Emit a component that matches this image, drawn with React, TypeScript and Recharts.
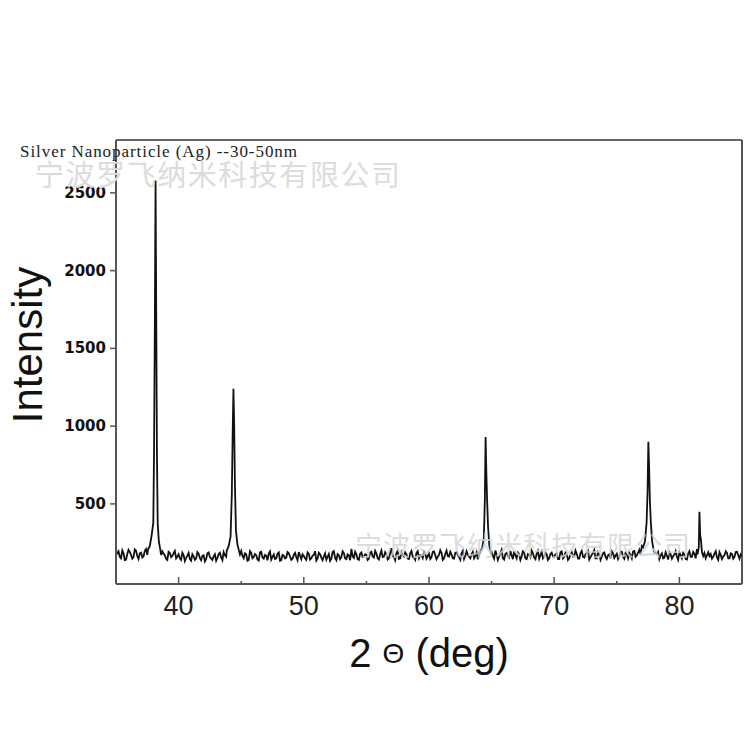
import React from 'react';
import { LineChart, Line, XAxis, YAxis, ReferenceLine } from 'recharts';

// background (noise) intensities, sampled every 0.2 deg from 35.0 to 85.0
const noiseStart = 35;
const noiseStep = 0.2;
const noiseIntensity = [
  168, 196, 150, 182, 141, 205, 172, 158, 199, 146, 187, 163, 210, 152, 190, 176, 215, 160, 172, 180, 148, 192, 158, 183, 150,
  176, 140, 171, 152, 185, 135, 163, 148, 180, 138, 170, 145, 188, 150, 162, 134, 178, 155, 190, 160, 200, 170, 168, 185, 140,
  198, 150, 176, 140, 185, 158, 170, 136, 192, 148, 166, 180, 142, 175, 150, 188, 138, 168, 155, 182, 140, 172, 158, 190, 145,
  165, 140, 180, 150, 172, 136, 186, 155, 162, 142, 178, 148, 196, 138, 170, 158, 184, 145, 168, 210, 152, 176, 140, 188, 160,
  172, 148, 192, 155, 180, 142, 200, 160, 175, 150, 215, 158, 182, 146, 190, 162, 176, 145, 198, 155, 185, 150, 170, 192, 148,
  180, 158, 195, 145, 172, 186, 150, 200, 162, 176, 148, 190, 158, 182, 145, 196, 160, 178, 150, 188, 170, 210, 175, 185, 152,
  190, 148, 176, 160, 205, 142, 185, 155, 170, 195, 150, 178, 162, 188, 145, 172, 200, 155, 180, 148, 192, 160, 175, 150, 186,
  158, 182, 145, 195, 160, 176, 150, 190, 165, 180, 148, 198, 155, 185, 142, 172, 205, 150, 178, 160, 188, 146, 176, 195, 152,
  180, 160, 192, 148, 176, 185, 150, 198, 170, 205, 230, 170, 170, 170, 170, 170, 178, 145, 182, 155, 170, 190, 148, 175, 160,
  188, 150, 176, 142, 195, 160, 180, 210, 155, 172, 185, 170, 165, 148, 180, 155, 190, 145, 170, 185, 150, 178, 160, 192, 148,
  165,
];

// background intensities in between, every 0.2 deg from 35.1 to 84.9
const noiseOddStart = 35.1;
const noiseOddIntensity = [
  185, 160, 201, 139, 176, 192, 148, 207, 165, 182, 155, 198, 172, 143, 205, 160, 188, 150, 195, 170, 140, 185, 165, 198, 162,
  150, 186, 132, 168, 145, 176, 140, 190, 152, 166, 130, 182, 158, 140, 176, 152, 186, 138, 170, 148, 182, 152, 195, 165, 175,
  165, 182, 135, 196, 150, 178, 142, 188, 155, 172, 138, 194, 160, 146, 180, 135, 172, 150, 190, 162, 148, 185, 138, 168, 176,
  150, 188, 142, 168, 196, 150, 176, 138, 182, 160, 134, 190, 152, 178, 145, 196, 150, 175, 138, 162, 192, 145, 180, 158, 176,
  140, 186, 162, 198, 150, 176, 158, 190, 142, 184, 165, 138, 200, 150, 172, 188, 148, 182, 160, 140, 196, 170, 152, 180, 165,
  146, 192, 170, 160, 202, 140, 178, 165, 192, 150, 186, 172, 140, 198, 165, 174, 150, 192, 165, 145, 195, 155, 190, 165, 175,
  165, 200, 140, 184, 152, 178, 165, 198, 145, 172, 188, 140, 196, 150, 178, 158, 182, 145, 198, 170, 150, 186, 140, 178, 162,
  176, 145, 190, 150, 186, 140, 178, 162, 200, 148, 184, 160, 176, 198, 158, 186, 150, 190, 140, 182, 160, 170, 150, 182, 168,
  145, 194, 160, 185, 150, 172, 195, 160, 186, 175, 215, 170, 170, 170, 170, 170, 192, 168, 150, 190, 142, 176, 165, 196, 140,
  170, 186, 145, 180, 160, 192, 150, 185, 170, 165, 150, 190, 178, 160, 196, 140, 172, 162, 196, 150, 182, 148, 190, 170, 176,
];

// diffraction peaks
const peak111Angle = [37.55, 37.7, 37.85, 37.98, 38.04, 38.1, 38.16, 38.22, 38.27, 38.33, 38.42, 38.55];
const peak111Intensity = [205, 230, 300, 380, 860, 1630, 2580, 1620, 820, 380, 260, 200];

const peak200Angle = [43.85, 44.0, 44.15, 44.25, 44.32, 44.38, 44.44, 44.5, 44.58, 44.7, 44.85];
const peak200Intensity = [200, 230, 290, 560, 960, 1240, 1000, 620, 330, 240, 190];

const peak220Angle = [64.05, 64.25, 64.38, 64.46, 64.52, 64.58, 64.64, 64.72, 64.82, 64.95];
const peak220Intensity = [190, 215, 280, 525, 930, 700, 525, 350, 230, 185];

const peak311Angle = [77.1, 77.25, 77.38, 77.46, 77.52, 77.58, 77.64, 77.72, 77.82, 77.95, 78.1];
const peak311Intensity = [220, 260, 380, 590, 899, 740, 525, 380, 260, 200, 180];

const peak222Angle = [81.45, 81.55, 81.6, 81.66, 81.72, 81.8];
const peak222Intensity = [175, 220, 449, 300, 270, 190];

const xTicks = [40, 45, 50, 55, 60, 65, 70, 75, 80];
const yTicks = [500, 1000, 1500, 2000, 2500];
const xDomain = [35, 85];
const yDomain = [-15, 2840];

const titleText = 'Silver Nanoparticle (Ag) --30-50nm';
const watermarkText = '宁波罗飞纳米科技有限公司';

function buildData() {
  const peaks: [number[], number[]][] = [
    [peak111Angle, peak111Intensity],
    [peak200Angle, peak200Intensity],
    [peak220Angle, peak220Intensity],
    [peak311Angle, peak311Intensity],
    [peak222Angle, peak222Intensity],
  ];
  const pts: { angle: number; intensity: number }[] = [];
  const addNoise = (start: number, values: number[]) =>
    values.forEach((v, i) => {
      const a = +(start + i * noiseStep).toFixed(2);
      const inside = peaks.some(([ang]) => a >= ang[0] && a <= ang[ang.length - 1]);
      if (!inside) pts.push({ angle: a, intensity: v });
    });
  addNoise(noiseStart, noiseIntensity);
  addNoise(noiseOddStart, noiseOddIntensity);
  peaks.forEach(([ang, val]) => ang.forEach((a, i) => pts.push({ angle: a, intensity: val[i] })));
  pts.sort((p, q) => p.angle - q.angle);
  return pts;
}

const data = buildData();

const XTick = (props: any) => {
  const { x, y, payload } = props;
  const major = payload.value % 10 === 0;
  return (
    <g>
      <line x1={x} x2={x} y1={y} y2={y - (major ? 7 : 3)} stroke="#555" strokeWidth={1.5} />
      {major && (
        <text x={x} y={y + 31} textAnchor="middle" fontFamily="Liberation Sans, Arial, sans-serif" fontSize={27} fill="#222">
          {payload.value}
        </text>
      )}
    </g>
  );
};

const YTick = (props: any) => {
  const { x, y, payload } = props;
  return (
    <g>
      <line x1={x - 6} x2={x} y1={y} y2={y} stroke="#555" strokeWidth={1.5} />
      <text x={x - 10} y={y + 5} textAnchor="end" fontFamily="DejaVu Sans, sans-serif" fontWeight="bold" fontSize={15} fill="#111">
        {payload.value}
      </text>
    </g>
  );
};

export default function App() {
  return (
    <div style={{ position: 'absolute', left: 0, top: 0, width: 750, height: 750, background: '#fff' }}>
      <LineChart width={750} height={750} data={data} margin={{ top: 140, right: 8, bottom: 126, left: 56 }}>
        <XAxis
          dataKey="angle"
          type="number"
          domain={xDomain}
          ticks={xTicks}
          allowDataOverflow
          height={40}
          tickSize={0}
          tickMargin={0}
          tickLine={false}
          tick={<XTick />}
          axisLine={{ stroke: '#555', strokeWidth: 2 }}
        />
        <YAxis
          type="number"
          domain={yDomain}
          ticks={yTicks}
          allowDataOverflow
          width={60}
          tickSize={0}
          tickMargin={0}
          tickLine={false}
          tick={<YTick />}
          axisLine={{ stroke: '#555', strokeWidth: 2 }}
        />
        <ReferenceLine y={yDomain[1]} stroke="#333" strokeWidth={1.5} />
        <ReferenceLine x={xDomain[1]} stroke="#555" strokeWidth={2} />
        <Line
          type="linear"
          dataKey="intensity"
          stroke="#111"
          strokeWidth={1.8}
          dot={false}
          isAnimationActive={false}
        />
      </LineChart>
      <svg width={750} height={750} style={{ position: 'absolute', left: 0, top: 0, pointerEvents: 'none' }}>
        <text x={20} y={157} fontFamily="Liberation Serif, Times New Roman, serif" fontSize={17} fill="#222" textLength={277} lengthAdjust="spacing">
          {titleText}
        </text>
        <text x={35} y={186} fontFamily="Noto Sans CJK SC, sans-serif" fontSize={29} fill="#dcdcdc" textLength={365} lengthAdjust="spacing">
          {watermarkText}
        </text>
        <text x={355} y={556} fontFamily="Noto Sans CJK SC, sans-serif" fontSize={27} fill="#d4d4d4" opacity={0.8} textLength={335} lengthAdjust="spacing">
          {watermarkText}
        </text>
        <text x={42} y={345} transform="rotate(-90 42 345)" textAnchor="middle" fontFamily="Liberation Sans, Arial, sans-serif" fontSize={42} fill="#111">
          Intensity
        </text>
        <text x={429} y={667} textAnchor="middle" fontFamily="Liberation Sans, Arial, sans-serif" fontSize={40} fill="#111">
          2 <tspan fontSize={28} dy={-4}>Θ</tspan><tspan dy={4}> (deg)</tspan>
        </text>
      </svg>
    </div>
  );
}
